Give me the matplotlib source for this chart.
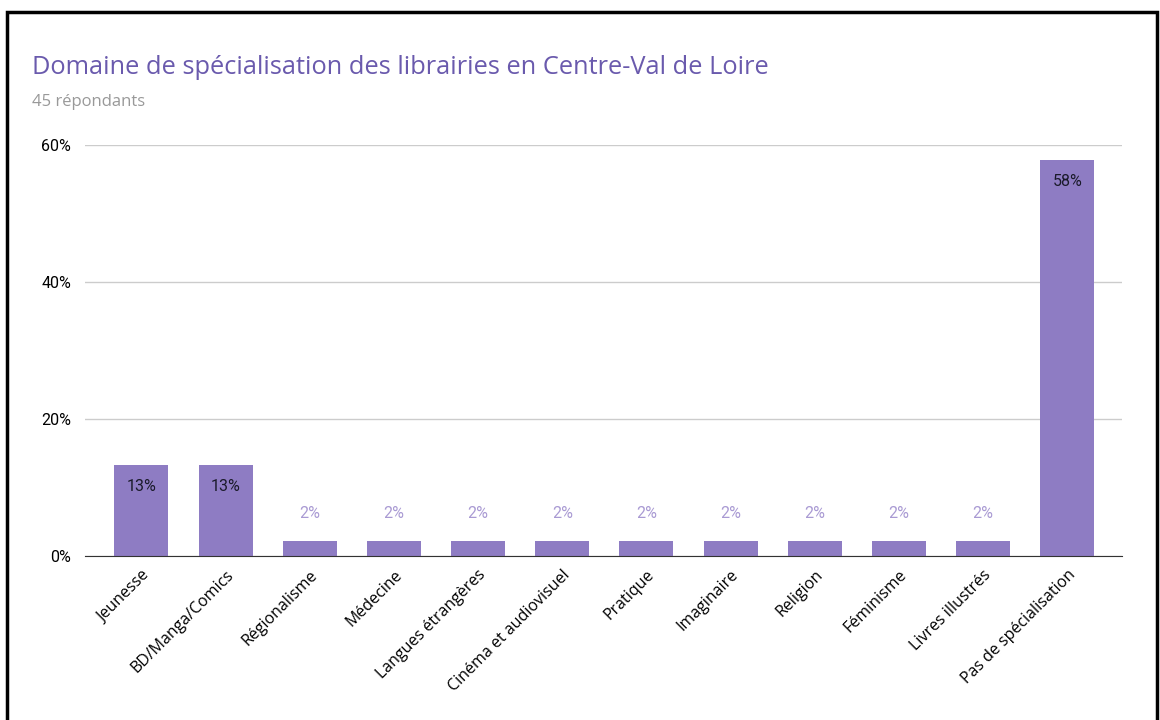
import matplotlib.pyplot as plt
from matplotlib.patches import Rectangle

categories = ['Jeunesse', 'BD/Manga/Comics', 'Régionalisme', 'Médecine',
              'Langues étrangères', 'Cinéma et audiovisuel', 'Pratique',
              'Imaginaire', 'Religion', 'Féminisme', 'Livres illustrés',
              'Pas de spécialisation']
values = [13.3, 13.3, 2.2, 2.2, 2.2, 2.2, 2.2, 2.2, 2.2, 2.2, 2.2, 57.8]
labels = ['13%', '13%', '2%', '2%', '2%', '2%', '2%', '2%', '2%', '2%', '2%', '58%']

bar_color = '#8e7cc3'
plt.rcParams['font.family'] = ['Open Sans', 'DejaVu Sans']

fig = plt.figure(figsize=(11.6, 7.2), dpi=100)
ax = fig.add_axes([85 / 1160, 1 - 556 / 720, (1122 - 85) / 1160, (556 - 145) / 720])

x = range(len(categories))
ax.bar(x, values, width=0.64, color=bar_color, zorder=2)

# dark labels inside the tall bars, light ones above the short bars
for i, (v, lab) in enumerate(zip(values, labels)):
    if v > 10:
        ax.text(i, v - 2.0, lab, ha='center', va='top', fontsize=11.5,
                color='#1a1a2a', family='Roboto')
    else:
        ax.text(i, v + 2.9, lab, ha='center', va='bottom', fontsize=11.5,
                color='#a99ad3', family='Roboto')

ax.set_ylim(0, 60)
ax.set_xlim(-0.67, 11.65)
ax.set_yticks([0, 20, 40, 60])
ax.set_yticklabels(['0%', '20%', '40%', '60%'], family='Roboto', fontsize=11.5)
ax.set_xticks(list(x))
ax.set_xticklabels(categories, rotation=45, ha='right', rotation_mode='anchor',
                   fontsize=11.5)
ax.grid(axis='y', color='#cccccc', linewidth=1, zorder=0)
for s in ['top', 'right', 'left']:
    ax.spines[s].set_visible(False)
ax.spines['bottom'].set_color('#333333')
ax.spines['bottom'].set_zorder(3)
ax.tick_params(length=0, pad=8)
ax.tick_params(axis='y', pad=10)

fig.text(32 / 1160, 1 - 68 / 720, 'Domaine de spécialisation des librairies en Centre-Val de Loire',
         fontsize=18.3, color='#6a5aad', va='center')
fig.text(32 / 1160, 1 - 102 / 720, '45 répondants', fontsize=12, color='#999999', va='center')

# black frame around the image (open at the bottom)
fig.patches.append(Rectangle((7 / 1160, -0.1), (1157 - 7) / 1160, 1.1 - 12 / 720,
                             transform=fig.transFigure, fill=False,
                             edgecolor='black', linewidth=2.5))

fig.savefig('out.png', dpi=100)
